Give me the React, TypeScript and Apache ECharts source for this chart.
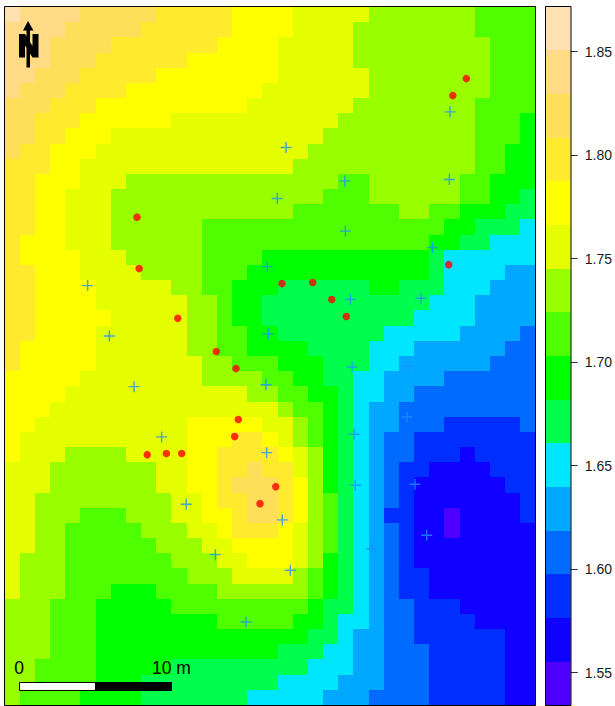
import React, { useEffect, useRef } from "react";
import * as echarts from "echarts";

// Band colours from lowest to highest, and band limits of the colour key
const bandColors = [
  "#4D00FF", "#0F00FF", "#002EFF", "#006BFF", "#00A8FF", "#00E6FF", "#00FF4D", "#00FF00",
  "#4DFF00", "#99FF00", "#E6FF00", "#FFFF00", "#FFEA2D", "#FFDE59", "#FFDB86", "#FFE0B3",
];
const bandBreaks = [
  1.5342, 1.5553, 1.5764, 1.5975, 1.6186, 1.6397, 1.6608, 1.6819, 1.703,
  1.7241, 1.7452, 1.7663, 1.7874, 1.8085, 1.8296, 1.8507, 1.8719,
];
const tickValues = [1.55, 1.6, 1.65, 1.7, 1.75, 1.8, 1.85];

// Raster rows, north to south. Each token: starting column, then band index in hex.
const rasterRows = [
  "0f 1e 5d 10c 15b 19a 249 318",
  "0e 4d 9c 15b 19a 239 318",
  "0e 3d 7c 14b 18a 239 328",
  "0e 3d 6c 12b 18a 239 328",
  "0e 2d 5c 10b 18a 249 328",
  "0e 1d 4c 8b 17a 249 328",
  "0d 3c 6b 16a 239 318",
  "0d 2c 5b 11a 229 318 347",
  "0d 2c 4b 7a 219 318 347",
  "0d 1c 3b 6a 209 318 337",
  "0c 3b 5a 199 318 337",
  "0c 2b 5a 89 228 249 308 327",
  "0c 2b 4a 79 218 249 308 327 346",
  "0c 2b 4a 79 198 269 288 307 336",
  "0c 2b 4a 79 138 297 316 345",
  "0c 1b 4a 79 138 287 306 325",
  "0c 1b 5a 89 138 177 286 295",
  "0c 2b 5a 99 138 167 286 295 334",
  "0c 2b 6a 119 138 157 186 247 266 295 324",
  "0c 2b 6a 129 148 157 176 285 314",
  "0c 2b 7a 129 148 157 176 275 314",
  "0c 2b 6a 129 148 167 186 255 304 343",
  "0c 1b 6a 129 148 167 206 245 274 333",
  "0c 1b 6a 139 158 187 216 245 264 323",
  "0b 5a 139 178 197 216 235 254 293",
  "0b 4a 169 188 207 226 235 254 273",
  "0b 3a 189 198 217 226 235 244 263",
  "0b 2a 12b 17a 199 208 217 226 235 244 263 292 343",
  "0b 1a 12b 15c 17b 18a 199 208 217 226 235 244 253 272",
  "0b 1a 49 8a 12b 14c 18b 19a 209 217 226 235 244 253 272 301 312",
  "0a 39 10a 12b 14c 16d 17c 19a 209 217 226 235 244 253 262 281 322",
  "0a 39 10a 12b 14c 15d 18c 19b 209 217 226 235 244 253 262 271 332",
  "0a 29 11a 13b 14c 16d 18c 19b 209 218 226 235 244 253 262 271 342",
  "0a 29 58 89 11a 13b 15c 16d 18c 19b 209 218 226 235 244 252 271 290 301 342",
  "0a 29 48 99 12a 14b 15c 18b 19a 209 218 226 235 244 253 262 271 290 301",
  "0a 29 48 109 13a 15b 19a 209 218 226 235 244 253 262 271",
  "0a 19 48 119 14a 16b 19a 209 217 226 235 244 253 262 271",
  "0a 19 48 129 15a 199 208 217 226 235 244 253 262 281",
  "0a 19 48 77 108 149 208 217 226 235 244 253 262 281",
  "09 38 67 118 207 216 235 244 253 272 301",
  "09 38 67 148 197 216 225 244 253 272 311",
  "09 38 67 206 225 234 253 272 331",
  "09 38 67 186 215 234 253 282 331",
  "09 28 67 116 205 234 253 282 331",
  "09 28 67 96 185 224 253 282 331",
  "09 18 57 96 165 214 243 282 331",
];
const rasterCols = 35;

// Sample locations, metres east and north of the raster's south-west corner
const redPoints = [
  [8.73, 32.15], [30.44, 41.28], [29.55, 40.16], [8.87, 28.76], [11.42, 25.49],
  [13.96, 23.29], [15.26, 22.17], [15.41, 18.81], [15.17, 17.69], [9.41, 16.5],
  [10.67, 16.57], [11.68, 16.57], [29.28, 29.02], [18.29, 27.77], [20.32, 27.84],
  [21.57, 26.72], [22.53, 25.6], [16.84, 13.27], [17.88, 14.39],
];
const bluePoints = [
  [29.37, 39.09], [18.56, 36.74], [29.32, 34.63], [22.43, 34.54], [17.98, 33.38],
  [22.47, 31.23], [5.48, 27.64], [6.91, 24.32], [8.54, 20.98], [10.36, 17.67],
  [17.32, 28.89], [17.39, 24.46], [17.24, 21.11], [17.28, 16.63], [28.2, 30.15],
  [22.8, 26.72], [27.46, 26.81], [22.91, 22.28], [26.6, 22.33], [26.53, 18.98],
  [23.04, 17.84], [11.98, 13.23], [13.9, 9.91], [15.92, 5.47], [23.12, 14.48],
  [27.06, 14.55], [18.31, 12.2], [27.83, 11.19], [24.18, 10.3], [18.84, 8.88],
];

const FONT = "'Liberation Sans', Arial, sans-serif";

function decodeRaster() {
  const cells: number[][] = [];
  const nRows = rasterRows.length;
  rasterRows.forEach((row, r) => {
    const runs = row.split(" ").map((t) => ({
      start: parseInt(t.slice(0, -1), 10),
      band: parseInt(t.slice(-1), 16),
    }));
    runs.forEach((run, i) => {
      const end = i + 1 < runs.length ? runs[i + 1].start : rasterCols;
      for (let c = run.start; c < end; c++) {
        const mid = (bandBreaks[run.band] + bandBreaks[run.band + 1]) / 2;
        cells.push([c, nRows - r - 1, mid, run.band]);
      }
    });
  });
  return cells;
}

echarts.graphic.registerShape(
  "northArrow",
  echarts.graphic.extendPath(
    "M28 21 L33.5 30.5 H30 V67.5 H26.5 V30.5 H23 Z M19 34 H25 L32.5 46 V34 H38.5 V57.5 H32.5 L25 45.5 V57.5 H19 Z",
    {}
  )
);

export default function App() {
  const ref = useRef<HTMLDivElement>(null);

  useEffect(() => {
    document.body.style.margin = "0";
    const chart = echarts.init(ref.current!, undefined, { renderer: "svg" });
    const nRows = rasterRows.length;
    chart.setOption({
      animation: false,
      backgroundColor: "#ffffff",
      grid: [
        { left: 4.5, top: 7, width: 531, height: 698 },
        { left: 545.5, top: 6.5, width: 25.5, height: 699 },
      ],
      xAxis: [
        { type: "value", gridIndex: 0, min: 0, max: rasterCols, show: false },
        { type: "value", gridIndex: 1, min: 0, max: 1, show: false },
      ],
      yAxis: [
        { type: "value", gridIndex: 0, min: 0, max: nRows, show: false },
        {
          type: "value",
          gridIndex: 1,
          position: "right",
          min: bandBreaks[0],
          max: bandBreaks[bandBreaks.length - 1],
          splitLine: { show: false },
          axisLine: { show: false },
          axisTick: { show: false },
          axisLabel: {
            show: true,
            margin: 14,
            customValues: tickValues,
            formatter: (v: number) => v.toFixed(2),
            fontFamily: FONT,
            fontSize: 14,
            color: "#1a1a1a",
          },
        },
      ],
      series: [
        {
          type: "custom",
          xAxisIndex: 0,
          yAxisIndex: 0,
          clip: false,
          silent: true,
          z: 1,
          data: decodeRaster(),
          renderItem: (_p: any, api: any) => {
            const a = api.coord([api.value(0), api.value(1) + 1]);
            const b = api.coord([api.value(0) + 1, api.value(1)]);
            const x0 = Math.round(a[0]);
            const y0 = Math.round(a[1]);
            return {
              type: "rect",
              shape: { x: x0, y: y0, width: Math.round(b[0]) - x0, height: Math.round(b[1]) - y0 },
              style: { fill: bandColors[api.value(3)] },
            };
          },
        },
        {
          type: "custom",
          xAxisIndex: 1,
          yAxisIndex: 1,
          clip: false,
          silent: true,
          z: 1,
          data: bandColors.map((_, i) => [0, bandBreaks[i], bandBreaks[i + 1], i]),
          renderItem: (_p: any, api: any) => {
            const a = api.coord([0, api.value(2)]);
            const b = api.coord([1, api.value(1)]);
            const y0 = Math.round(a[1]);
            return {
              type: "rect",
              shape: { x: a[0], y: y0, width: b[0] - a[0], height: Math.round(b[1]) - y0 },
              style: { fill: bandColors[api.value(3)] },
            };
          },
        },
        {
          type: "custom",
          xAxisIndex: 1,
          yAxisIndex: 1,
          clip: false,
          silent: true,
          z: 5,
          data: tickValues.map((v) => [1, v]),
          renderItem: (_p: any, api: any) => {
            const p = api.coord([1, api.value(1)]);
            const y = Math.round(p[1] - 0.5) + 0.5;
            return {
              type: "line",
              shape: { x1: p[0], y1: y, x2: p[0] + 7, y2: y },
              style: { stroke: "#333333", lineWidth: 1 },
            };
          },
        },
        {
          type: "scatter",
          xAxisIndex: 0,
          yAxisIndex: 0,
          z: 3,
          silent: true,
          data: bluePoints,
          symbol: "path://M4.35 0H5.65V4.35H10V5.65H5.65V10H4.35V5.65H0V4.35H4.35Z",
          symbolSize: 11,
          itemStyle: { color: "#1E90FF" },
        },
        {
          type: "scatter",
          xAxisIndex: 0,
          yAxisIndex: 0,
          z: 4,
          silent: true,
          data: redPoints,
          symbol: "circle",
          symbolSize: 7.5,
          itemStyle: { color: "#FF0000" },
        },
      ],
      graphic: [
        { type: "rect", z: 20, shape: { x: 4.5, y: 6.5, width: 531, height: 699 }, style: { fill: "none", stroke: "#000", lineWidth: 1 } },
        { type: "rect", z: 20, shape: { x: 545.5, y: 6.5, width: 25.5, height: 699 }, style: { fill: "none", stroke: "#000", lineWidth: 1 } },
        { type: "northArrow", z: 20, x: 0, y: 0, style: { fill: "#000" } },
        { type: "rect", z: 20, shape: { x: 19.5, y: 682.5, width: 76, height: 8 }, style: { fill: "#fff", stroke: "#000", lineWidth: 1 } },
        { type: "rect", z: 20, shape: { x: 95.5, y: 682.5, width: 76, height: 8 }, style: { fill: "#000", stroke: "#000", lineWidth: 1 } },
        { type: "text", z: 20, x: 19, y: 677, style: { text: "0", font: `17.5px ${FONT}`, fill: "#000", textAlign: "center", textVerticalAlign: "bottom" } },
        { type: "text", z: 20, x: 152, y: 677, style: { text: "10 m", font: `17.5px ${FONT}`, fill: "#000", textAlign: "left", textVerticalAlign: "bottom" } },
      ],
    });
    return () => chart.dispose();
  }, []);

  return <div ref={ref} style={{ width: 615, height: 706 }} />;
}
